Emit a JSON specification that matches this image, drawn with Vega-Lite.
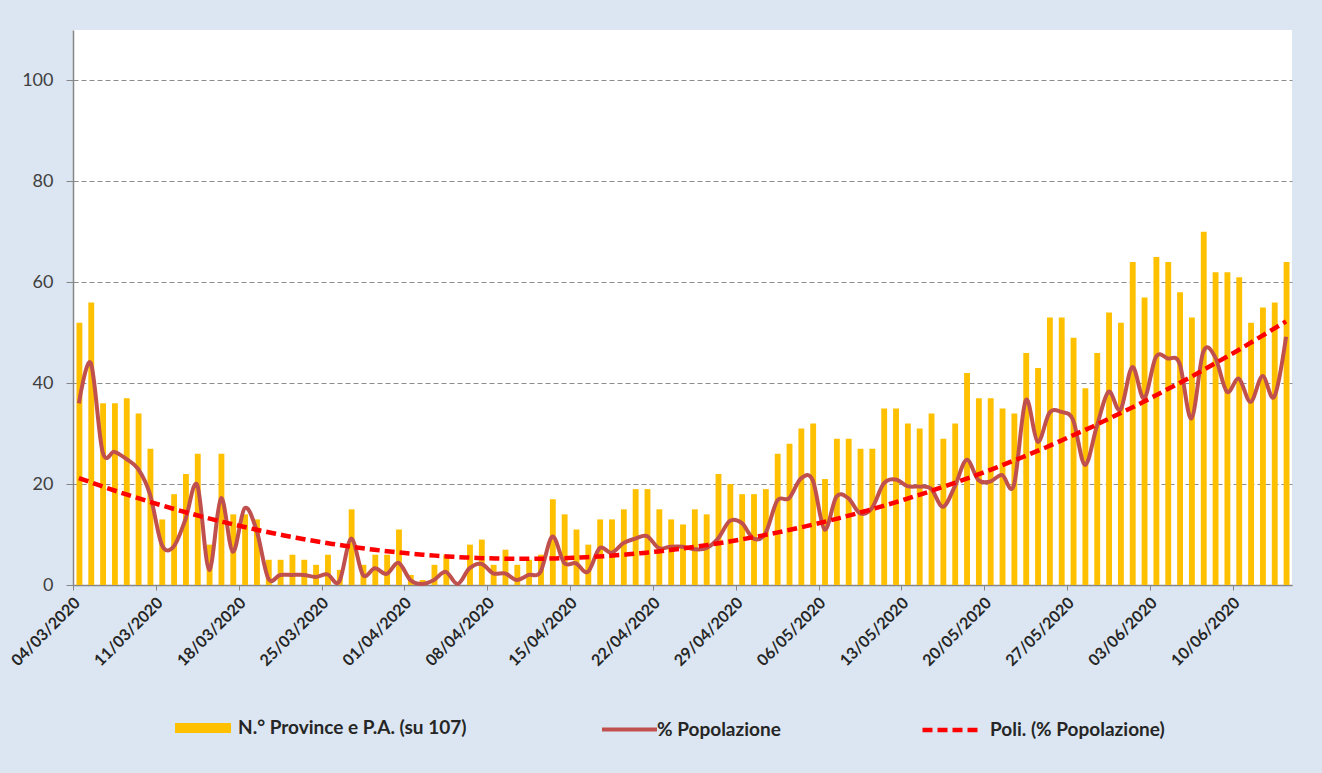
{
  "$schema": "https://vega.github.io/schema/vega-lite/v6.json",
  "width": 1219,
  "height": 555,
  "autosize": "none",
  "padding": {"left": 73, "top": 30, "right": 30, "bottom": 188},
  "background": "#DCE6F2",
  "data": {
    "format": {"parse": {"date": "date"}},
    "values": [
      {"date": "2020-03-04T12:00:00", "prov": 52, "pop": 36},
      {"date": "2020-03-05T12:00:00", "prov": 56, "pop": 44},
      {"date": "2020-03-06T12:00:00", "prov": 36, "pop": 26.4},
      {"date": "2020-03-07T12:00:00", "prov": 36, "pop": 26.4},
      {"date": "2020-03-08T12:00:00", "prov": 37, "pop": 25},
      {"date": "2020-03-09T12:00:00", "prov": 34, "pop": 23},
      {"date": "2020-03-10T12:00:00", "prov": 27, "pop": 18},
      {"date": "2020-03-11T12:00:00", "prov": 13, "pop": 8},
      {"date": "2020-03-12T12:00:00", "prov": 18, "pop": 7.6},
      {"date": "2020-03-13T12:00:00", "prov": 22, "pop": 13},
      {"date": "2020-03-14T12:00:00", "prov": 26, "pop": 19.8},
      {"date": "2020-03-15T12:00:00", "prov": 8, "pop": 3},
      {"date": "2020-03-16T12:00:00", "prov": 26, "pop": 17.2},
      {"date": "2020-03-17T12:00:00", "prov": 14, "pop": 6.6},
      {"date": "2020-03-18T12:00:00", "prov": 14, "pop": 15.2},
      {"date": "2020-03-19T12:00:00", "prov": 13, "pop": 10.9},
      {"date": "2020-03-20T12:00:00", "prov": 5, "pop": 1.3},
      {"date": "2020-03-21T12:00:00", "prov": 5, "pop": 2},
      {"date": "2020-03-22T12:00:00", "prov": 6, "pop": 2},
      {"date": "2020-03-23T12:00:00", "prov": 5, "pop": 2},
      {"date": "2020-03-24T12:00:00", "prov": 4, "pop": 1.6},
      {"date": "2020-03-25T12:00:00", "prov": 6, "pop": 2.1},
      {"date": "2020-03-26T12:00:00", "prov": 3, "pop": 0.7},
      {"date": "2020-03-27T12:00:00", "prov": 15, "pop": 9.2},
      {"date": "2020-03-28T12:00:00", "prov": 4, "pop": 2},
      {"date": "2020-03-29T12:00:00", "prov": 6, "pop": 3.3},
      {"date": "2020-03-30T12:00:00", "prov": 6, "pop": 2.2},
      {"date": "2020-03-31T12:00:00", "prov": 11, "pop": 4.4},
      {"date": "2020-04-01T12:00:00", "prov": 2, "pop": 1},
      {"date": "2020-04-02T12:00:00", "prov": 1, "pop": 0.2},
      {"date": "2020-04-03T12:00:00", "prov": 4, "pop": 1},
      {"date": "2020-04-04T12:00:00", "prov": 6, "pop": 2.6},
      {"date": "2020-04-05T12:00:00", "prov": 0, "pop": 0.2},
      {"date": "2020-04-06T12:00:00", "prov": 8, "pop": 3.3},
      {"date": "2020-04-07T12:00:00", "prov": 9, "pop": 4.2},
      {"date": "2020-04-08T12:00:00", "prov": 4, "pop": 2.3},
      {"date": "2020-04-09T12:00:00", "prov": 7, "pop": 2.3},
      {"date": "2020-04-10T12:00:00", "prov": 4, "pop": 1},
      {"date": "2020-04-11T12:00:00", "prov": 5, "pop": 2},
      {"date": "2020-04-12T12:00:00", "prov": 6, "pop": 2.6},
      {"date": "2020-04-13T12:00:00", "prov": 17, "pop": 9.6},
      {"date": "2020-04-14T12:00:00", "prov": 14, "pop": 4.4},
      {"date": "2020-04-15T12:00:00", "prov": 11, "pop": 4.3},
      {"date": "2020-04-16T12:00:00", "prov": 8, "pop": 2.6},
      {"date": "2020-04-17T12:00:00", "prov": 13, "pop": 7.3},
      {"date": "2020-04-18T12:00:00", "prov": 13, "pop": 6.4},
      {"date": "2020-04-19T12:00:00", "prov": 15, "pop": 8.3},
      {"date": "2020-04-20T12:00:00", "prov": 19, "pop": 9.2},
      {"date": "2020-04-21T12:00:00", "prov": 19, "pop": 9.7},
      {"date": "2020-04-22T12:00:00", "prov": 15, "pop": 7.3},
      {"date": "2020-04-23T12:00:00", "prov": 13, "pop": 7.6},
      {"date": "2020-04-24T12:00:00", "prov": 12, "pop": 7.6},
      {"date": "2020-04-25T12:00:00", "prov": 15, "pop": 7.1},
      {"date": "2020-04-26T12:00:00", "prov": 14, "pop": 7.3},
      {"date": "2020-04-27T12:00:00", "prov": 22, "pop": 9.2},
      {"date": "2020-04-28T12:00:00", "prov": 20, "pop": 12.7},
      {"date": "2020-04-29T12:00:00", "prov": 18, "pop": 12.3},
      {"date": "2020-04-30T12:00:00", "prov": 18, "pop": 9.2},
      {"date": "2020-05-01T12:00:00", "prov": 19, "pop": 10.2},
      {"date": "2020-05-02T12:00:00", "prov": 26, "pop": 16.7},
      {"date": "2020-05-03T12:00:00", "prov": 28, "pop": 17.2},
      {"date": "2020-05-04T12:00:00", "prov": 31, "pop": 21.1},
      {"date": "2020-05-05T12:00:00", "prov": 32, "pop": 20.8},
      {"date": "2020-05-06T12:00:00", "prov": 21, "pop": 11},
      {"date": "2020-05-07T12:00:00", "prov": 29, "pop": 17.5},
      {"date": "2020-05-08T12:00:00", "prov": 29, "pop": 17.2},
      {"date": "2020-05-09T12:00:00", "prov": 27, "pop": 14.2},
      {"date": "2020-05-10T12:00:00", "prov": 27, "pop": 15.2},
      {"date": "2020-05-11T12:00:00", "prov": 35, "pop": 20.1},
      {"date": "2020-05-12T12:00:00", "prov": 35, "pop": 20.9},
      {"date": "2020-05-13T12:00:00", "prov": 32, "pop": 19.6},
      {"date": "2020-05-14T12:00:00", "prov": 31, "pop": 19.5},
      {"date": "2020-05-15T12:00:00", "prov": 34, "pop": 19.1},
      {"date": "2020-05-16T12:00:00", "prov": 29, "pop": 15.5},
      {"date": "2020-05-17T12:00:00", "prov": 32, "pop": 19.5},
      {"date": "2020-05-18T12:00:00", "prov": 42, "pop": 24.8},
      {"date": "2020-05-19T12:00:00", "prov": 37, "pop": 20.8},
      {"date": "2020-05-20T12:00:00", "prov": 37, "pop": 20.5},
      {"date": "2020-05-21T12:00:00", "prov": 35, "pop": 21.8},
      {"date": "2020-05-22T12:00:00", "prov": 34, "pop": 19.8},
      {"date": "2020-05-23T12:00:00", "prov": 46, "pop": 36.6},
      {"date": "2020-05-24T12:00:00", "prov": 43, "pop": 28.4},
      {"date": "2020-05-25T12:00:00", "prov": 53, "pop": 34.1},
      {"date": "2020-05-26T12:00:00", "prov": 53, "pop": 34.3},
      {"date": "2020-05-27T12:00:00", "prov": 49, "pop": 32.7},
      {"date": "2020-05-28T12:00:00", "prov": 39, "pop": 23.8},
      {"date": "2020-05-29T12:00:00", "prov": 46, "pop": 31.4},
      {"date": "2020-05-30T12:00:00", "prov": 54, "pop": 38.3},
      {"date": "2020-05-31T12:00:00", "prov": 52, "pop": 34.7},
      {"date": "2020-06-01T12:00:00", "prov": 64, "pop": 43.2},
      {"date": "2020-06-02T12:00:00", "prov": 57, "pop": 37},
      {"date": "2020-06-03T12:00:00", "prov": 65, "pop": 45.2},
      {"date": "2020-06-04T12:00:00", "prov": 64, "pop": 44.9},
      {"date": "2020-06-05T12:00:00", "prov": 58, "pop": 43.9},
      {"date": "2020-06-06T12:00:00", "prov": 53, "pop": 33},
      {"date": "2020-06-07T12:00:00", "prov": 70, "pop": 46.2},
      {"date": "2020-06-08T12:00:00", "prov": 62, "pop": 45.2},
      {"date": "2020-06-09T12:00:00", "prov": 62, "pop": 38.3},
      {"date": "2020-06-10T12:00:00", "prov": 61, "pop": 40.9},
      {"date": "2020-06-11T12:00:00", "prov": 52, "pop": 36.3},
      {"date": "2020-06-12T12:00:00", "prov": 55, "pop": 41.4},
      {"date": "2020-06-13T12:00:00", "prov": 56, "pop": 37.3},
      {"date": "2020-06-14T12:00:00", "prov": 64, "pop": 49.2}
    ]
  },
  "layer": [
    {
      "mark": {"type": "bar", "width": {"band": 0.58}},
      "encoding": {
        "x": {
          "field": "date", "timeUnit": "yearmonthdate", "type": "temporal",
          "scale": {"domain": [{"year": 2020, "month": 3, "date": 4}, {"year": 2020, "month": 6, "date": 15}], "nice": false},
          "axis": {
            "title": null,
            "values": [
              {"year": 2020, "month": 3, "date": 4}, {"year": 2020, "month": 3, "date": 11},
              {"year": 2020, "month": 3, "date": 18}, {"year": 2020, "month": 3, "date": 25},
              {"year": 2020, "month": 4, "date": 1}, {"year": 2020, "month": 4, "date": 8},
              {"year": 2020, "month": 4, "date": 15}, {"year": 2020, "month": 4, "date": 22},
              {"year": 2020, "month": 4, "date": 29}, {"year": 2020, "month": 5, "date": 6},
              {"year": 2020, "month": 5, "date": 13}, {"year": 2020, "month": 5, "date": 20},
              {"year": 2020, "month": 5, "date": 27}, {"year": 2020, "month": 6, "date": 3},
              {"year": 2020, "month": 6, "date": 10}
            ],
            "format": "%d/%m/%Y",
            "labelAngle": -45,
            "labelAlign": "right",
            "labelBaseline": "middle",
            "labelFont": "Lato",
            "labelFontWeight": "bold",
            "labelFontSize": 16,
            "labelColor": "#262626",
            "labelPadding": 10,
            "labelOffset": 4,
            "labelOverlap": false,
            "labelFlush": false,
            "labelBound": false,
            "tickSize": 5,
            "tickColor": "#868686",
            "domainColor": "#868686",
            "domainWidth": 1.5,
            "grid": false
          }
        },
        "y": {
          "field": "prov", "type": "quantitative",
          "scale": {"domain": [0, 110], "nice": false},
          "axis": {
            "title": null,
            "values": [0, 20, 40, 60, 80, 100],
            "labelFont": "Lato",
            "labelFontSize": 18,
            "labelColor": "#404040",
            "labelPadding": 13,
            "tickSize": 7,
            "tickColor": "#868686",
            "domainColor": "#868686",
            "domainWidth": 1.5,
            "grid": true,
            "gridColor": "#8C8C8C",
            "gridDash": [5, 3],
            "gridWidth": 1
          }
        },
        "fill": {
          "datum": "N.° Province e P.A. (su 107)",
          "type": "nominal",
          "scale": {"range": ["#FFC000"]},
          "legend": {
            "title": null,
            "orient": "none",
            "legendX": 102,
            "legendY": 670,
            "symbolType": "M-1,-0.18H1V0.18H-1Z",
            "symbolSize": 3136,
            "symbolStrokeWidth": 0,
            "labelFont": "Lato",
            "labelFontWeight": "bold",
            "labelFontSize": 19,
            "labelColor": "#262626",
            "labelOffset": 7,
            "labelLimit": 400
          }
        }
      }
    },
    {
      "mark": {"type": "line", "interpolate": "cardinal", "tension": 0, "strokeWidth": 4},
      "encoding": {
        "x": {"field": "date", "type": "temporal"},
        "y": {"field": "pop", "type": "quantitative"},
        "stroke": {
          "datum": "% Popolazione",
          "type": "nominal",
          "scale": {"range": ["#C0504D"]},
          "legend": {
            "title": null,
            "orient": "none",
            "legendX": 527,
            "legendY": 670,
            "symbolType": "stroke",
            "symbolSize": 3025,
            "symbolStrokeWidth": 4,
            "labelFont": "Lato",
            "labelFontWeight": "bold",
            "labelFontSize": 19,
            "labelColor": "#262626",
            "labelOffset": -2,
            "labelLimit": 400
          }
        }
      }
    },
    {
      "transform": [{"regression": "pop", "on": "date", "method": "poly", "order": 2}],
      "mark": {"type": "line", "strokeWidth": 4.5, "color": "#FF0000"},
      "encoding": {
        "x": {"field": "date", "type": "temporal"},
        "y": {"field": "pop", "type": "quantitative"},
        "strokeDash": {
          "datum": "Poli. (% Popolazione)",
          "type": "nominal",
          "scale": {"range": [[10, 5]]},
          "legend": {
            "title": null,
            "orient": "none",
            "legendX": 847,
            "legendY": 670,
            "symbolType": "stroke",
            "symbolSize": 3025,
            "symbolStrokeWidth": 4.5,
            "symbolStrokeColor": "#FF0000",
            "symbolDash": [14, 6],
            "labelFont": "Lato",
            "labelFontWeight": "bold",
            "labelFontSize": 19,
            "labelColor": "#262626",
            "labelOffset": 10,
            "labelLimit": 400,
            "encode": {
              "symbols": {"update": {"strokeDash": {"value": [14, 6]}, "stroke": {"value": "#FF0000"}}}
            }
          }
        }
      }
    }
  ],
  "config": {
    "view": {"fill": "white", "stroke": null}
  }
}
